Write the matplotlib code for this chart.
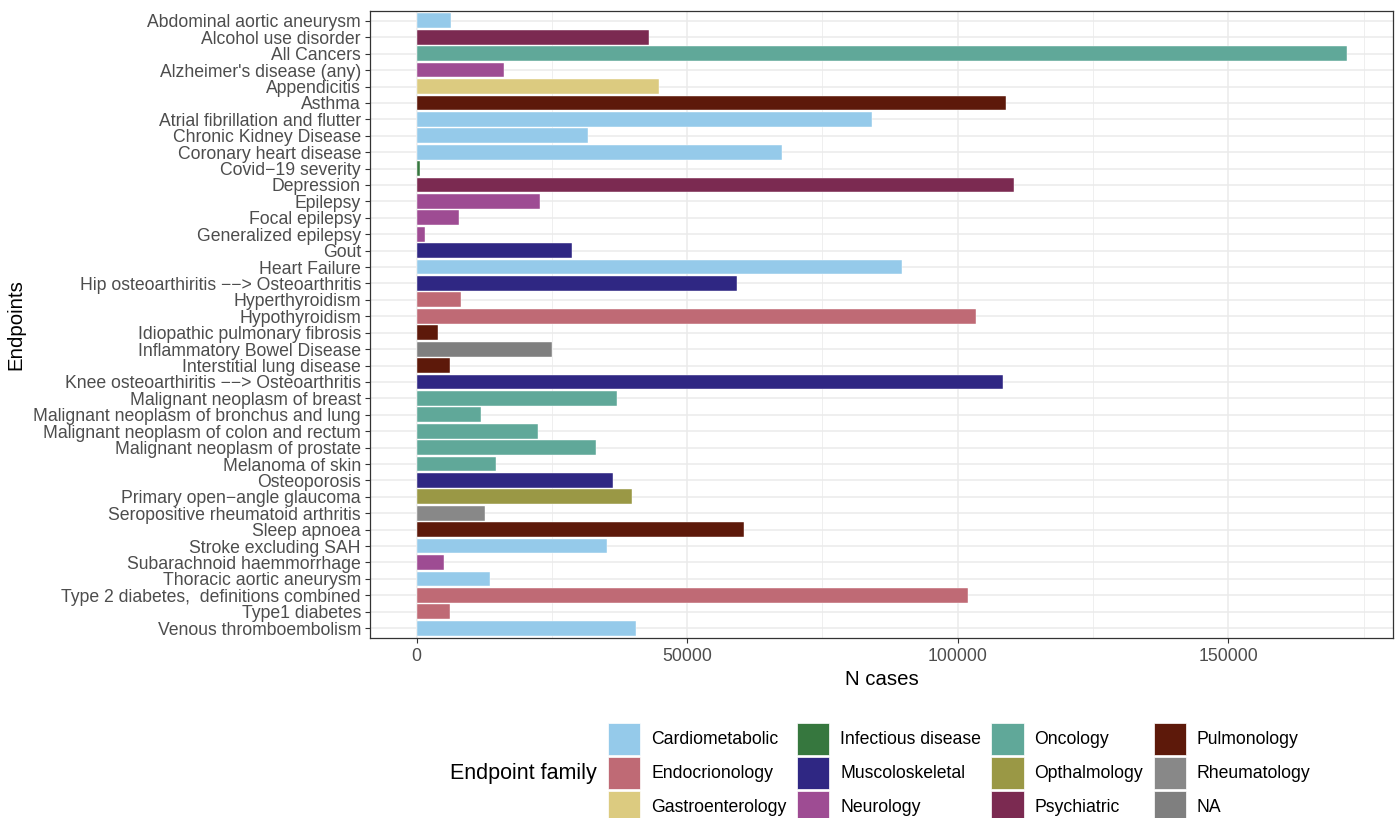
import numpy as np
import matplotlib
matplotlib.use('Agg')
import matplotlib.pyplot as plt
from matplotlib.patches import Patch

plt.rcParams['font.family'] = ['Liberation Sans', 'DejaVu Sans']

# endpoints, top to bottom as in the picture
endpoints = ["Abdominal aortic aneurysm", "Alcohol use disorder", "All Cancers",
             "Alzheimer's disease (any)", "Appendicitis", "Asthma",
             "Atrial fibrillation and flutter", "Chronic Kidney Disease",
             "Coronary heart disease", "Covid\u221219 severity", "Depression", "Epilepsy",
             "Focal epilepsy", "Generalized epilepsy", "Gout", "Heart Failure",
             "Hip osteoarthiritis \u2212\u2212> Osteoarthritis", "Hyperthyroidism",
             "Hypothyroidism", "Idiopathic pulmonary fibrosis",
             "Inflammatory Bowel Disease", "Interstitial lung disease",
             "Knee osteoarthiritis \u2212\u2212> Osteoarthritis",
             "Malignant neoplasm of breast", "Malignant neoplasm of bronchus and lung",
             "Malignant neoplasm of colon and rectum", "Malignant neoplasm of prostate",
             "Melanoma of skin", "Osteoporosis", "Primary open\u2212angle glaucoma",
             "Seropositive rheumatoid arthritis", "Sleep apnoea", "Stroke excluding SAH",
             "Subarachnoid haemmorrhage", "Thoracic aortic aneurysm",
             "Type 2 diabetes,  definitions combined", "Type1 diabetes",
             "Venous thromboembolism"]

n_cases = [6300, 42900, 171850, 16100, 44800, 108900, 84200, 31600, 67500, 700,
           110350, 22900, 7800, 1500, 28700, 89650, 59150, 8300, 103300, 3900,
           25100, 6200, 108300, 37100, 11900, 22500, 33200, 14700, 36300, 39800,
           12750, 60450, 35200, 5000, 13550, 101850, 6200, 40650]

family = ["Cardiometabolic", "Psychiatric", "Oncology", "Neurology", "Gastroenterology",
          "Pulmonology", "Cardiometabolic", "Cardiometabolic", "Cardiometabolic",
          "Infectious disease", "Psychiatric", "Neurology", "Neurology", "Neurology",
          "Muscoloskeletal", "Cardiometabolic", "Muscoloskeletal", "Endocrionology",
          "Endocrionology", "Pulmonology", "NA", "Pulmonology", "Muscoloskeletal",
          "Oncology", "Oncology", "Oncology", "Oncology", "Oncology", "Muscoloskeletal",
          "Opthalmology", "Rheumatology", "Pulmonology", "Cardiometabolic", "Neurology",
          "Cardiometabolic", "Endocrionology", "Endocrionology", "Cardiometabolic"]

families = ["Cardiometabolic", "Endocrionology", "Gastroenterology",
            "Infectious disease", "Muscoloskeletal", "Neurology",
            "Oncology", "Opthalmology", "Psychiatric",
            "Pulmonology", "Rheumatology", "NA"]
fam_colors = ["#95CAEA", "#BF6A75", "#DCCB80",
              "#36773E", "#2F2783", "#9E4C93",
              "#60A899", "#9A9845", "#7B2A51",
              "#5D190A", "#888888", "#7F7F7F"]
cmap = dict(zip(families, fam_colors))

fig = plt.figure(figsize=(14, 8.18), dpi=100)
# panel: x 370..1393, y 11..638 in pixels
ax = fig.add_axes([370/1400, 1 - 638/818, (1393-370)/1400, (638-11)/818])

ypos = np.arange(len(endpoints))
ax.barh(ypos, n_cases, height=0.9, color=[cmap[f] for f in family],
        edgecolor='white', linewidth=0.3, zorder=3)

ax.set_yticks(ypos)
ax.set_yticklabels(endpoints)
ax.set_ylim(len(endpoints) - 0.4, -0.6)
xmax = max(n_cases)
ax.set_xlim(-0.05*xmax, 1.05*xmax)
ax.set_xticks([0, 50000, 100000, 150000])
ax.set_xticklabels(['0', '50000', '100000', '150000'])
ax.set_xticks([25000, 75000, 125000, 175000], minor=True)

ax.grid(True, which='major', color='#EBEBEB', linewidth=1.1, zorder=0)
ax.grid(True, which='minor', axis='x', color='#EBEBEB', linewidth=0.55, zorder=0)
ax.tick_params(axis='both', which='major', labelsize=12.7, labelcolor='#4D4D4D',
               color='#333333', length=3.5, width=0.8)
ax.tick_params(axis='x', which='minor', length=0)
ax.tick_params(axis='x', pad=4)
ax.tick_params(axis='y', pad=3)
for s in ax.spines.values():
    s.set_color('#333333')
    s.set_linewidth(0.9)

ax.set_xlabel('N cases', fontsize=14.7, labelpad=3)
ax.set_ylabel('Endpoints', fontsize=14.7, labelpad=6)

# legend at bottom, title to the left
handles = [Patch(facecolor=c, edgecolor='white', linewidth=0.5) for c in fam_colors]
fig.legend(handles, families, loc='upper left', ncol=4, frameon=False,
           bbox_to_anchor=(608/1400, 1 - 723/818), fontsize=12.7,
           handlelength=1.82, handleheight=2.42, handletextpad=0.62,
           labelspacing=0.11, columnspacing=0.6, borderpad=0, borderaxespad=0)
fig.text(450/1400, 1 - 773/818, 'Endpoint family', fontsize=15.5, va='center', ha='left')

plt.savefig('out.png', dpi=100)
